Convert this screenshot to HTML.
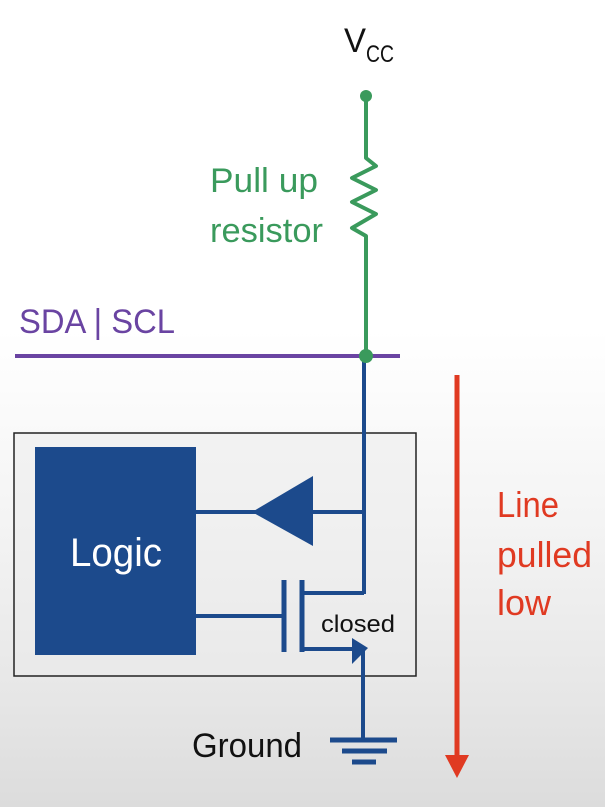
<!DOCTYPE html>
<html><head><style>
html,body{margin:0;padding:0;width:605px;height:807px;overflow:hidden}
body{background:linear-gradient(#ffffff 0px,#ffffff 330px,#f4f4f4 520px,#e6e6e6 700px,#dcdcdc 807px)}
svg text{font-family:"Liberation Sans Narrow","Liberation Sans",sans-serif}
</style></head><body>
<svg width="605" height="807" viewBox="0 0 605 807" xmlns="http://www.w3.org/2000/svg">
<text x="344" y="52" font-size="34" fill="#111" textLength="22" lengthAdjust="spacingAndGlyphs">V</text>
<text x="366" y="62" font-size="24" fill="#111" textLength="28" lengthAdjust="spacingAndGlyphs">CC</text>
<rect x="14" y="433" width="402" height="243" fill="#ececec" fill-opacity="0.5" stroke="#222" stroke-width="1.5"/>
<line x1="364" y1="358" x2="364" y2="594" stroke="#1c4a8c" stroke-width="4"/>
<polyline points="366,100 366,158 376,166 352,178 376,190 352,202 376,214 352,228 366,236 366,356" fill="none" stroke="#3a9a5c" stroke-width="4" stroke-linejoin="round"/>
<circle cx="366" cy="96" r="6" fill="#3a9a5c"/>
<text x="210" y="192" font-size="34" fill="#3a9a5c" textLength="108" lengthAdjust="spacingAndGlyphs">Pull up</text>
<text x="210" y="242" font-size="34" fill="#3a9a5c" textLength="113" lengthAdjust="spacingAndGlyphs">resistor</text>
<text x="19" y="333" font-size="34" fill="#6a44a2" textLength="156" lengthAdjust="spacingAndGlyphs">SDA | SCL</text>
<line x1="15" y1="356" x2="400" y2="356" stroke="#6a44a2" stroke-width="4"/>
<circle cx="366" cy="356" r="7" fill="#3a9a5c"/>
<rect x="35" y="447" width="161" height="208" fill="#1c4a8c"/>
<text x="70" y="566" font-size="40" fill="#fff" textLength="92" lengthAdjust="spacingAndGlyphs">Logic</text>
<line x1="196" y1="512" x2="364" y2="512" stroke="#1c4a8c" stroke-width="4"/>
<polygon points="252,512 313,476 313,546" fill="#1c4a8c"/>
<line x1="196" y1="616" x2="284" y2="616" stroke="#1c4a8c" stroke-width="4"/>
<line x1="284" y1="580" x2="284" y2="652" stroke="#1c4a8c" stroke-width="5"/>
<line x1="302" y1="580" x2="302" y2="652" stroke="#1c4a8c" stroke-width="5"/>
<polyline points="302,593 364,593" fill="none" stroke="#1c4a8c" stroke-width="4"/>
<line x1="302" y1="649" x2="352" y2="649" stroke="#1c4a8c" stroke-width="4"/>
<polygon points="352,638 368,648 352,664" fill="#1c4a8c"/>
<line x1="363" y1="648" x2="363" y2="740" stroke="#1c4a8c" stroke-width="4"/>
<text x="321" y="632" font-size="24" fill="#111" textLength="74" lengthAdjust="spacingAndGlyphs">closed</text>
<line x1="330" y1="740" x2="397" y2="740" stroke="#1c4a8c" stroke-width="5"/>
<line x1="342" y1="751" x2="387" y2="751" stroke="#1c4a8c" stroke-width="5"/>
<line x1="352" y1="762" x2="376" y2="762" stroke="#1c4a8c" stroke-width="5"/>
<text x="192" y="757" font-size="34" fill="#111" textLength="110" lengthAdjust="spacingAndGlyphs">Ground</text>
<line x1="457" y1="375" x2="457" y2="758" stroke="#e03a22" stroke-width="5"/>
<polygon points="445,755 469,755 457,778" fill="#e03a22"/>
<text x="497" y="517" font-size="36" fill="#e03a22" textLength="62" lengthAdjust="spacingAndGlyphs">Line</text>
<text x="497" y="567" font-size="36" fill="#e03a22" textLength="95" lengthAdjust="spacingAndGlyphs">pulled</text>
<text x="497" y="615" font-size="36" fill="#e03a22" textLength="54" lengthAdjust="spacingAndGlyphs">low</text>
</svg>
</body></html>
